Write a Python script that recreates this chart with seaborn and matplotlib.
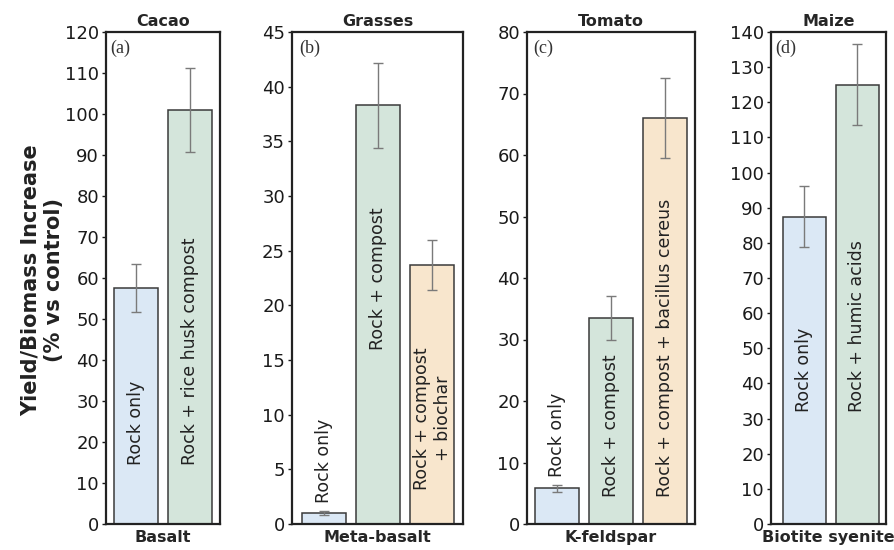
import numpy as np
import pandas as pd
import matplotlib
matplotlib.use("Agg")
import matplotlib.pyplot as plt
import seaborn as sns

# values
crops = ["Cacao", "Grasses", "Tomato", "Maize"]
rocks = ["Basalt", "Meta-basalt", "K-feldspar", "Biotite syenite"]
panel_tags = ["(a)", "(b)", "(c)", "(d)"]

cacao_labels = ["Rock only", "Rock + rice husk compost"]
cacao_values = [57.5, 101.0]
cacao_err = [5.8, 10.2]

grass_labels = ["Rock only", "Rock + compost", "Rock + compost\n+ biochar"]
grass_values = [1.0, 38.3, 23.7]
grass_err = [0.2, 3.9, 2.3]

tomato_labels = ["Rock only", "Rock + compost", "Rock + compost + bacillus cereus"]
tomato_values = [5.8, 33.5, 66.0]
tomato_err = [0.6, 3.5, 6.5]

maize_labels = ["Rock only", "Rock + humic acids"]
maize_values = [87.5, 125.0]
maize_err = [8.8, 11.5]

y_limits = [120, 45, 80, 140]
y_steps = [10, 5, 10, 10]
# where the rotated bar text starts (data units)
text_base = [[14.4, 14.4], [1.9, 15.9, 3.1], [7.6, 4.4, 4.4], [32, 32]]

colors = ["#dbe8f5", "#d4e5db", "#f8e6cd"]

panels = [
    (cacao_labels, cacao_values, cacao_err),
    (grass_labels, grass_values, grass_err),
    (tomato_labels, tomato_values, tomato_err),
    (maize_labels, maize_values, maize_err),
]

sns.set_style("white")
plt.rcParams["font.family"] = ["DejaVu Sans"]

fig = plt.figure(figsize=(8.94, 5.5), dpi=100)

# axes boxes in pixels: left, right (figure is 894 x 550)
boxes = [(106, 220), (292, 463), (527, 695), (771, 886)]
xlims = [(-0.556, 1.556), (-0.59, 2.57), (-0.556, 2.55), (-0.63, 1.54)]
top_px, bottom_px = 32, 524

for i, (labels, values, errs) in enumerate(panels):
    l, r = boxes[i]
    ax = fig.add_axes([l / 894, 1 - bottom_px / 550, (r - l) / 894,
                       (bottom_px - top_px) / 550])
    df = pd.DataFrame({"treatment": labels, "value": values})
    sns.barplot(data=df, x="treatment", y="value", hue="treatment",
                palette=colors[:len(labels)], saturation=1, width=0.815,
                legend=False, edgecolor="#3a3a3a", linewidth=1.1, ax=ax)
    ax.errorbar(np.arange(len(values)), values, yerr=errs, fmt="none",
                ecolor="#7a7a7a", elinewidth=1.0, capsize=3.5, capthick=1.0)

    for j, lab in enumerate(labels):
        ax.text(j, text_base[i][j], lab, rotation=90, ha="center", va="bottom",
                fontsize=12.5, color="#222222", multialignment="center")

    ax.set_ylim(0, y_limits[i])
    ax.set_yticks(np.arange(0, y_limits[i] + 1, y_steps[i]))
    ax.set_xlim(*xlims[i])
    ax.set_xticks([])
    ax.set_xlabel(rocks[i], fontsize=11.5, fontweight="bold", labelpad=4)
    ax.set_ylabel("")
    ax.set_title(crops[i], fontsize=11.5, fontweight="bold", pad=4)
    ax.tick_params(axis="y", labelsize=13, length=3, width=1, pad=2,
                   left=True, colors="#1a1a1a")
    for sp in ax.spines.values():
        sp.set_visible(True)
        sp.set_color("#222222")
        sp.set_linewidth(1.6)
    ax.text(0.04, 0.985, panel_tags[i], transform=ax.transAxes, ha="left",
            va="top", fontsize=13, family="Liberation Serif", color="#333333")

fig.text(0.047, 0.49, "Yield/Biomass Increase\n(% vs control)", rotation=90,
         ha="center", va="center", fontsize=15, fontweight="bold",
         multialignment="center", color="#222222")

fig.savefig("out.png", dpi=100)
